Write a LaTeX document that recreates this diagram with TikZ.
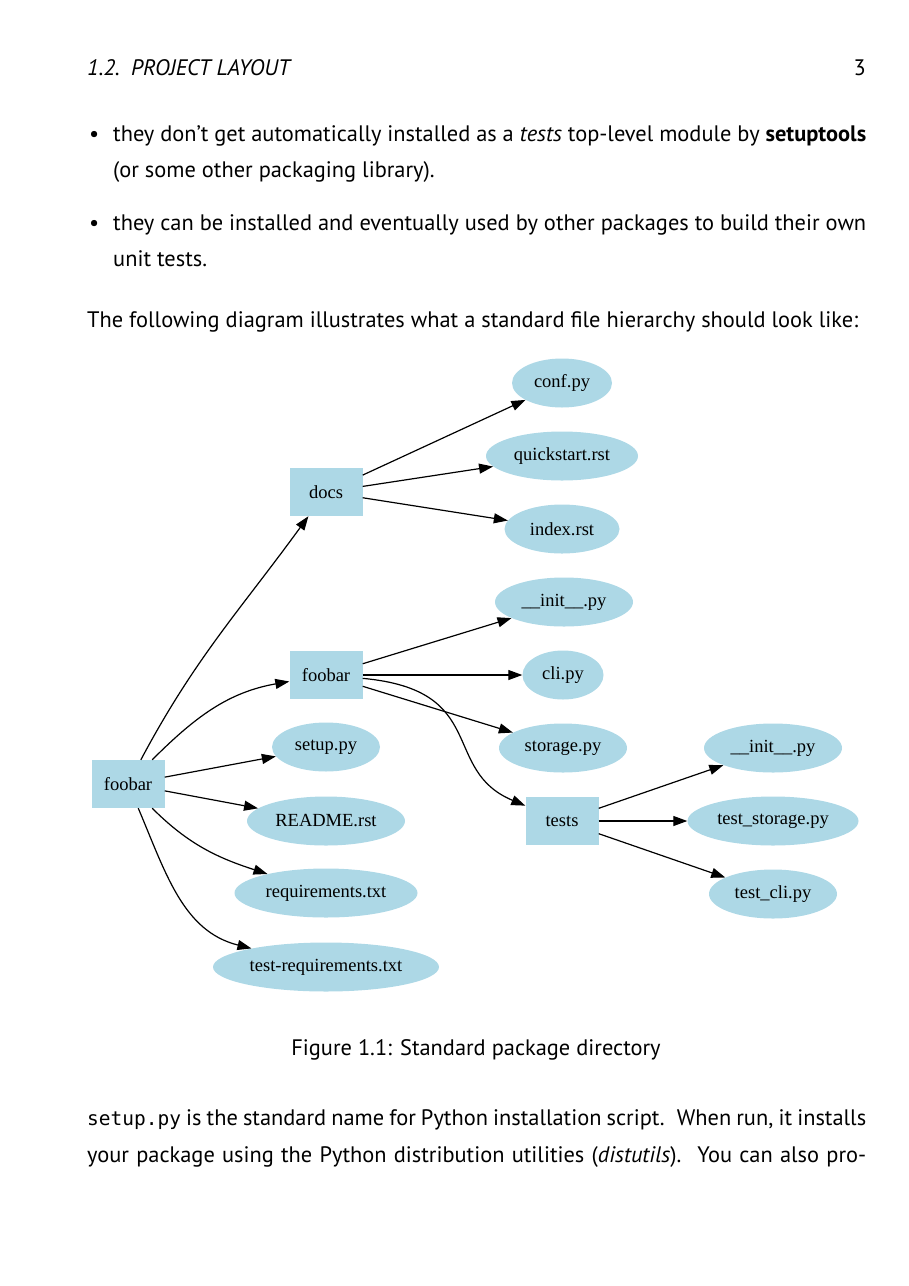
\documentclass[tikz,border=0pt]{standalone}
\usepackage{fontspec}
\setmainfont{PT Sans}
\setmonofont{DejaVu Sans Mono}
\newfontfamily\graphfont{Liberation Serif}
\usetikzlibrary{arrows.meta,shapes.geometric}
\definecolor{NodeBlue}{RGB}{173,216,230}

\begin{document}
\begin{tikzpicture}[
        %Environment Config
        x=1pt, y=-1pt,
        font=\fontsize{22.4}{26}\selectfont,
        MyArrow/.style={%Style for the edges
            -{Triangle[length=14pt,width=10pt]},
            line width=1.2pt
        },
        DirBox/.style={%Style for the directories
            rectangle,
            fill=NodeBlue,
            minimum width=73pt,
            minimum height=48pt,
            inner sep=0pt,
            font=\graphfont\fontsize{18.5}{22}\selectfont
        },
        FileEllipse/.style={%Style for the files
            ellipse,
            fill=NodeBlue,
            minimum width=#1,
            minimum height=49pt,
            inner sep=0pt,
            font=\graphfont\fontsize{18.5}{22}\selectfont
        },
        FileEllipse/.default=100pt,
        TextLine/.style={%Style for the lines of text
            anchor=base west,
            inner sep=0pt
        }
    ]
    \useasboundingbox (0,0) rectangle (909,1286);

    %%%%%%%%%%%%%%%%%%%%%%%%%%%%%%%%%%%%%%%%%%%%%%%%%%%%%%%%%%%%%%%%%%%%%%%%%%%%
    % TEXT ABOVE
    %%%%%%%%%%%%%%%%%%%%%%%%%%%%%%%%%%%%%%%%%%%%%%%%%%%%%%%%%%%%%%%%%%%%%%%%%%%%
    \node[TextLine] (HEAD) at (87,75) {\textit{1.2.\hspace{0.5em}PROJECT LAYOUT}};
    \node[TextLine, anchor=base east] (PNUM) at (866,75) {3};

    \node[TextLine] (B1) at (89,141) {\textbullet};
    \node[TextLine] (L1) at (113,141) {\makebox[753pt][s]{they don’t get automatically installed as a \textit{tests} top-level module by \textbf{setuptools}}};
    \node[TextLine] (L2) at (113,177) {(or some other packaging library).};

    \node[TextLine] (B2) at (89,230) {\textbullet};
    \node[TextLine] (L3) at (113,230) {\makebox[753pt][s]{they can be installed and eventually used by other packages to build their own}};
    \node[TextLine] (L4) at (113,266) {unit tests.};

    \node[TextLine] (L5) at (87,327) {The following diagram illustrates what a standard file hierarchy should look like:};

    %%%%%%%%%%%%%%%%%%%%%%%%%%%%%%%%%%%%%%%%%%%%%%%%%%%%%%%%%%%%%%%%%%%%%%%%%%%%
    % DIAGRAM
    %%%%%%%%%%%%%%%%%%%%%%%%%%%%%%%%%%%%%%%%%%%%%%%%%%%%%%%%%%%%%%%%%%%%%%%%%%%%
    % directories
    \node[DirBox] (ROOT) at (128,784) {foobar};
    \node[DirBox] (DOCS) at (326,492) {docs};
    \node[DirBox] (PKG) at (326,675) {foobar};
    \node[DirBox] (TESTS) at (562,821) {tests};

    % docs part
    \node[FileEllipse=100pt] (CONF) at (562,383) {conf.py};
    \node[FileEllipse=152pt] (QUICK) at (562,456) {quickstart.rst};
    \node[FileEllipse=115pt] (INDEX) at (562,529) {index.rst};

    % package part
    \node[FileEllipse=138pt] (PINIT) at (564,602) {\_\_init\_\_.py};
    \node[FileEllipse=81pt] (CLI) at (563,675) {cli.py};
    \node[FileEllipse=128pt] (STOR) at (563,748) {storage.py};

    % top level files
    \node[FileEllipse=108pt] (SETUP) at (326,747) {setup.py};
    \node[FileEllipse=158pt] (README) at (326,821) {README.rst};
    \node[FileEllipse=183pt] (REQ) at (326,893) {requirements.txt};
    \node[FileEllipse=226pt] (TREQ) at (326,967) {test-requirements.txt};

    % tests part
    \node[FileEllipse=138pt] (TINIT) at (773,748) {\_\_init\_\_.py};
    \node[FileEllipse=171pt] (TSTOR) at (773,821) {test\_storage.py};
    \node[FileEllipse=128pt] (TCLI) at (773,894) {test\_cli.py};

    % edges
    \draw[MyArrow] (ROOT) to[out=62, in=234] (DOCS);
    \draw[MyArrow] (ROOT) to[out=45, in=190] (PKG);
    \draw[MyArrow] (ROOT) -- (SETUP);
    \draw[MyArrow] (ROOT) -- (README);
    \draw[MyArrow] (ROOT) to[out=-45, in=162] (REQ);
    \draw[MyArrow] (ROOT) to[out=-67, in=166] (TREQ);

    \draw[MyArrow] (DOCS) -- (CONF);
    \draw[MyArrow] (DOCS) -- (QUICK);
    \draw[MyArrow] (DOCS) -- (INDEX);

    \draw[MyArrow] (PKG) -- (PINIT);
    \draw[MyArrow] (PKG) -- (CLI);
    \draw[MyArrow] (PKG) -- (STOR);
    \draw[MyArrow] (PKG) .. controls (490,690) and (440,770) .. (TESTS);

    \draw[MyArrow] (TESTS) -- (TINIT);
    \draw[MyArrow] (TESTS) -- (TSTOR);
    \draw[MyArrow] (TESTS) -- (TCLI);

    %%%%%%%%%%%%%%%%%%%%%%%%%%%%%%%%%%%%%%%%%%%%%%%%%%%%%%%%%%%%%%%%%%%%%%%%%%%%
    % TEXT BELOW
    %%%%%%%%%%%%%%%%%%%%%%%%%%%%%%%%%%%%%%%%%%%%%%%%%%%%%%%%%%%%%%%%%%%%%%%%%%%%
    \node[TextLine, anchor=base] (CAP) at (476,1055) {Figure 1.1: Standard package directory};

    \node[TextLine] (L6) at (87,1125) {\makebox[779pt][s]{{\fontsize{19.5}{22}\selectfont\ttfamily setup.py} is the standard name for Python installation script.\hspace{0.2em} When run, it installs}};
    \node[TextLine] (L7) at (87,1162) {\makebox[779pt][s]{your package using the Python distribution utilities (\textit{distutils}).\hspace{0.2em} You can also pro-}};
\end{tikzpicture}
\end{document}
